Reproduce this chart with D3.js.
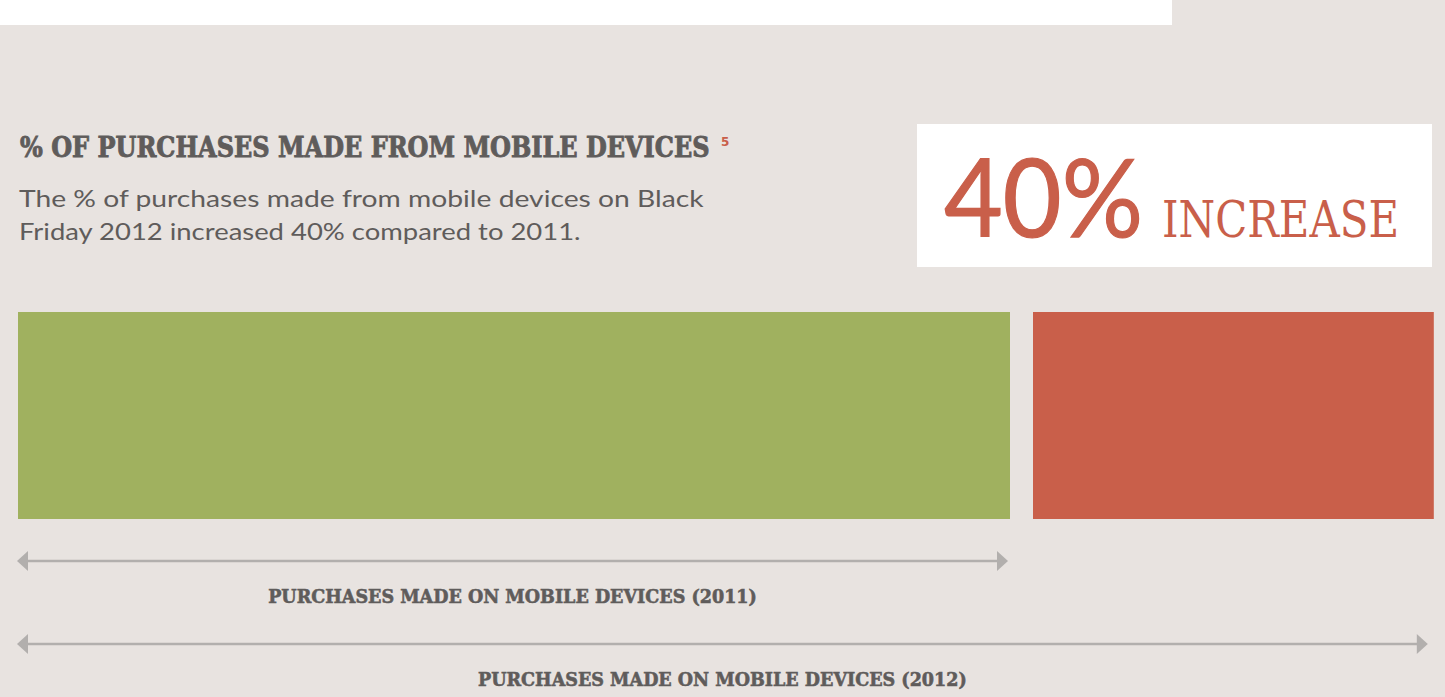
<!DOCTYPE html>
<html><head><meta charset="utf-8">
<script src="https://cdn.jsdelivr.net/npm/d3@7"></script>
<style>html,body{margin:0;padding:0;background:#e8e3e0;overflow:hidden}</style>
</head><body>
<svg id="c" width="1445" height="697"></svg>
<script>
// Data
const years = ["2011", "2012"];
const values = [100, 140];           // relative share of mobile purchases (2012 = +40%)
const increaseLabel = ["40%", "INCREASE"];
const axisLabels = ["PURCHASES MADE ON MOBILE DEVICES (2011)", "PURCHASES MADE ON MOBILE DEVICES (2012)"];
const titleText = "% OF PURCHASES MADE FROM MOBILE DEVICES";
const footnote = "5";
const subtitleLines = ["The % of purchases made from mobile devices on Black", "Friday 2012 increased 40% compared to 2011."];

const W = 1445, H = 697;
const svg = d3.select("#c");
const gray = "#5f5c5b", red = "#c95f4a", green = "#a0b15f", arrowC = "#b2afad";

svg.append("rect").attr("width", W).attr("height", H).attr("fill", "#e8e3e0");
svg.append("rect").attr("x", 0).attr("y", 0).attr("width", 1172).attr("height", 25).attr("fill", "#ffffff");

// fit a text horizontally to a target width by scaling (keeps real bbox)
function fitText(sel, x0, y0, target, anchor) {
  sel.attr("x", 0).attr("y", 0).attr("text-anchor", anchor || "start");
  const w = sel.node().getComputedTextLength();
  const s = target / w;
  sel.attr("transform", `translate(${x0},${y0}) scale(${s},1)`);
}

// Title
const title = svg.append("text").text(titleText)
  .attr("font-family", "'DejaVu Serif'").attr("font-weight", "bold").attr("font-size", 27)
  .attr("fill", gray).attr("stroke", gray).attr("stroke-width", 0.9);
fitText(title, 20, 157, 690);
svg.append("text").attr("x", 721).attr("y", 146).text(footnote)
  .attr("font-family", "'DejaVu Sans'").attr("font-weight", "bold").attr("font-size", 12).attr("fill", red);

// Subtitle
svg.selectAll("text.sub").data(subtitleLines).join("text").attr("class", "sub").text(d => d)
  .attr("font-family", "Lato").attr("font-weight", 400).attr("font-size", 24).attr("fill", gray)
  .each(function (d, i) { fitText(d3.select(this), 19, 207 + i * 33, i === 0 ? 685 : 562); });

// Increase box
svg.append("rect").attr("x", 917).attr("y", 124).attr("width", 515).attr("height", 143).attr("fill", "#ffffff");
const big = svg.append("text").text(increaseLabel[0])
  .attr("font-family", "Lato").attr("font-weight", 400).attr("font-size", 108).attr("fill", red)
  .attr("stroke", red).attr("stroke-width", 1.2);
fitText(big, 944, 237, 199);
const inc = svg.append("text").text(increaseLabel[1])
  .attr("font-family", "'DejaVu Serif'").attr("font-weight", 300).attr("font-size", 50).attr("fill", red);
fitText(inc, 1162, 237, 237);

// Scale
const x = d3.scaleLinear().domain([0, values[1]]).range([18, 18 + 9.92 * values[1]]);
const gap = 23;
const barTop = 312, barH = 207;

svg.append("rect").attr("x", x(0)).attr("y", barTop).attr("width", x(values[0]) - x(0)).attr("height", barH).attr("fill", green);
svg.append("rect").attr("x", x(values[0]) + gap).attr("y", barTop).attr("width", x(values[1]) - x(values[0]) + 4).attr("height", barH).attr("fill", red);

// Arrows
const arrows = [
  {y: 561, x0: x(0) - 1, x1: x(values[0]) - 2, label: axisLabels[0], ly: 603},
  {y: 644, x0: x(0) - 1, x1: x(values[1]) + gap - 2, label: axisLabels[1], ly: 686}
];
const ag = svg.append("g");
arrows.forEach(a => {
  ag.append("line").attr("x1", a.x0 + 8).attr("x2", a.x1 - 8).attr("y1", a.y).attr("y2", a.y)
    .attr("stroke", arrowC).attr("stroke-width", 2.5);
  ag.append("path").attr("d", `M${a.x0},${a.y} L${a.x0 + 11},${a.y - 10} L${a.x0 + 11},${a.y + 10} Z`).attr("fill", arrowC);
  ag.append("path").attr("d", `M${a.x1},${a.y} L${a.x1 - 11},${a.y - 10} L${a.x1 - 11},${a.y + 10} Z`).attr("fill", arrowC);
  const cx = (a.x0 + a.x1) / 2;
  const t = ag.append("text").text(a.label)
    .attr("font-family", "'DejaVu Serif'").attr("font-weight", "bold").attr("font-size", 19).attr("fill", gray)
    .attr("stroke", gray).attr("stroke-width", 0.6);
  fitText(t, cx, a.ly, 489, "middle");
});
</script>
</body></html>
